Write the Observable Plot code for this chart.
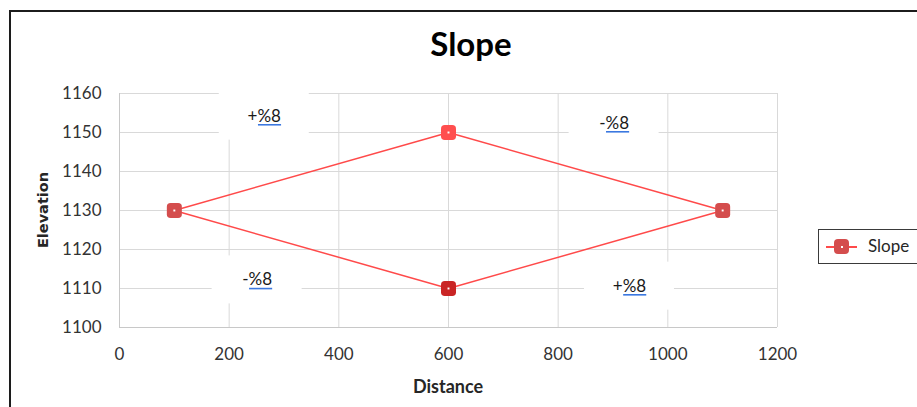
<!DOCTYPE html>
<html>
<head>
<meta charset="utf-8">
<script src="https://cdn.jsdelivr.net/npm/d3@7"></script>
<script src="https://cdn.jsdelivr.net/npm/@observablehq/plot@0.6"></script>
<style>
  html, body { margin: 0; padding: 0; background: #fff; overflow: hidden; width: 917px; height: 407px; }
  #wrap { position: relative; width: 917px; height: 407px; overflow: hidden; }
  #chart { position: absolute; left: 0; top: 0; }
  #frame { position: absolute; left: 9px; top: 10px; width: 1000px; height: 600px;
           border-left: 2px solid #1c1c1c; border-top: 2px solid #1c1c1c; pointer-events: none; }
  #title { position: absolute; left: 371px; width: 200px; top: 27px; text-align: center;
           font: bold 33px Lato, sans-serif; line-height: 33px; color: #000; }
  #xlabel { position: absolute; left: 348px; width: 200px; top: 377px; text-align: center;
            font: bold 18px Lato, sans-serif; line-height: 18px; color: #262626; }
  #ylabel { position: absolute; left: 43px; top: 210px; transform: translate(-50%, -50%) rotate(-90deg);
            font: bold 14.5px "DejaVu Sans", sans-serif; color: #262626; white-space: nowrap; }
  #legend { position: absolute; left: 818px; top: 229px; width: 120px; height: 35px;
            border: 1.5px solid #3a3a3a; box-sizing: border-box; }
  #legend .ln { position: absolute; left: 7px; top: 16px; width: 31px; height: 1.5px; background: #ff4a4a; }
  #legend .mk { position: absolute; left: 15px; top: 9px; width: 15px; height: 15px; border-radius: 4px; background: #d44d4d; }
  #legend .mk::after { content: ""; position: absolute; left: 6.5px; top: 6.5px; width: 2px; height: 2px; background: #fff; }
  #legend .tx { position: absolute; left: 49px; top: 6px; font: 17px Lato, sans-serif; line-height: 20px; color: #262626; }
</style>
</head>
<body>
<div id="wrap">
  <div id="chart"></div>
  <div id="frame"></div>
  <div id="title">Slope</div>
  <div id="xlabel">Distance</div>
  <div id="ylabel">Elevation</div>
  <div id="legend"><div class="ln"></div><div class="mk"></div><div class="tx">Slope</div></div>
</div>
<script>
// ---- data ----
const seriesName = "Slope";
const distance = [100, 600, 1100, 600, 100];
const elevation = [1130, 1150, 1130, 1110, 1130];
const xTicks = [0, 200, 400, 600, 800, 1000, 1200];
const yTicks = [1100, 1110, 1120, 1130, 1140, 1150, 1160];
const labelText = ["+%8", "-%8", "-%8", "+%8"];
const labelX = [264, 902, 251, 930];
const labelY = [1154.2, 1152.4, 1112.2, 1110.6];

// ---- build tables ----
const pts = distance.map((x, i) => ({x, y: elevation[i], i}));
const labels = labelText.map((t, i) => ({t, x: labelX[i], y: labelY[i]}));

// rounded square symbol
const roundSquare = {
  draw(ctx, size) {
    const h = Math.sqrt(size / Math.PI);
    const r = h * 0.5;
    ctx.moveTo(-h + r, -h);
    ctx.lineTo(h - r, -h);
    ctx.arcTo(h, -h, h, -h + r, r);
    ctx.lineTo(h, h - r);
    ctx.arcTo(h, h, h - r, h, r);
    ctx.lineTo(-h + r, h);
    ctx.arcTo(-h, h, -h, h - r, r);
    ctx.lineTo(-h, -h + r);
    ctx.arcTo(-h, -h, -h + r, -h, r);
    ctx.closePath();
  }
};

// pixel-based box half sizes converted to data units
const W = 917, H = 407, mL = 119, mR = 140, mT = 93, mB = 80;
const xPerPx = 1200 / (W - mL - mR);
const yPerPx = 60 / (H - mT - mB);
const boxHalfW = 45 * xPerPx, boxHalfH = 24 * yPerPx;

const uniquePts = pts.slice(0, 4);
const markerFill = (d) => d.y === 1150 ? "#ff4f4f" : d.y === 1110 ? "#c92525" : "#d44d4d";

const plot = Plot.plot({
  width: W, height: H,
  marginLeft: mL, marginRight: mR, marginTop: mT, marginBottom: mB,
  x: {domain: [0, 1200], label: null},
  y: {domain: [1100, 1160], label: null},
  style: {fontFamily: "Lato, sans-serif", fontSize: "17px", color: "#404040", background: "transparent"},
  marks: [
    Plot.gridX(xTicks, {stroke: "#d9d9d9", strokeOpacity: 1}),
    Plot.gridY(yTicks, {stroke: "#d9d9d9", strokeOpacity: 1}),
    Plot.ruleX([0], {stroke: "#c8c8c8"}),
    Plot.ruleY([1100], {stroke: "#c8c8c8"}),
    Plot.rect(labels, {x1: d => d.x - boxHalfW, x2: d => d.x + boxHalfW,
                       y1: d => d.y - boxHalfH, y2: d => d.y + boxHalfH, fill: "white"}),
    Plot.line(pts, {x: "x", y: "y", stroke: "#ff4a4a", strokeWidth: 1.5}),
    Plot.dot(uniquePts, {x: "x", y: "y", r: 7.5, symbol: roundSquare, fill: markerFill, stroke: null}),
    Plot.dot(uniquePts, {x: "x", y: "y", r: 1.1, symbol: "square", fill: "white"}),
    Plot.text(labels, {x: "x", y: "y", text: "t", fill: "#1a1a1a", fontSize: 17, className: "pctlabels"}),
    Plot.axisX({ticks: xTicks, tickSize: 0, tickPadding: 20, tickFormat: d => String(d), fill: "#333"}),
    Plot.axisY({ticks: yTicks, tickSize: 0, tickPadding: 18, tickFormat: d => String(d), fill: "#333"})
  ]
});
document.getElementById("chart").append(plot);

// blue proofing underline under the "%8" part of each label
plot.querySelectorAll("g.pctlabels text").forEach(t => {
  const bb = t.getBBox();
  const w0 = t.getSubStringLength(0, 1);
  const baseline = bb.y + bb.height * 0.82;
  const line = document.createElementNS("http://www.w3.org/2000/svg", "line");
  line.setAttribute("x1", bb.x + w0 + 0.5);
  line.setAttribute("x2", bb.x + bb.width);
  line.setAttribute("y1", baseline + 3);
  line.setAttribute("y2", baseline + 3);
  line.setAttribute("stroke", "#3b78e0");
  line.setAttribute("stroke-width", 1.6);
  const tr = t.getAttribute("transform");
  if (tr) line.setAttribute("transform", tr);
  if (t.getAttribute("x")) line.setAttribute("transform", `translate(0,0)`);
  t.parentNode.appendChild(line);
});
</script>
</body>
</html>
